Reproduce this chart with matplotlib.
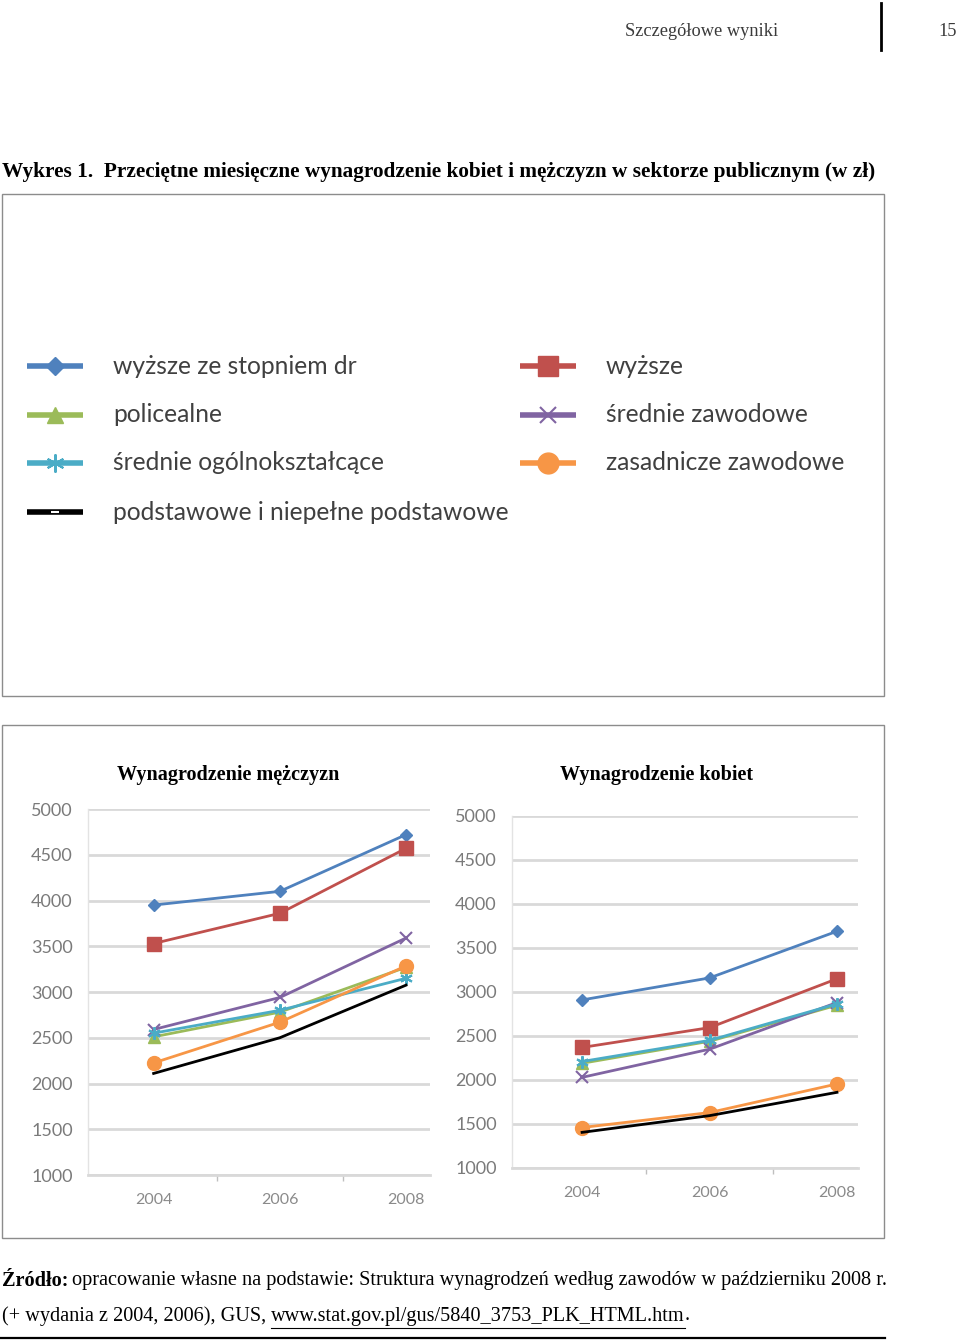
import matplotlib
matplotlib.use("Agg")
import matplotlib.pyplot as plt
from matplotlib.lines import Line2D
from matplotlib.patches import Rectangle
from matplotlib.transforms import Affine2D

# data (zł)
years = ["2004", "2006", "2008"]
labels = ["wyższe ze stopniem dr", "wyższe", "policealne", "średnie zawodowe",
          "średnie ogólnokształcące", "zasadnicze zawodowe",
          "podstawowe i niepełne podstawowe"]

men_dr = [3950, 4100, 4720]
men_wyzsze = [3530, 3860, 4570]
men_policealne = [2510, 2780, 3270]
men_sr_zawodowe = [2590, 2940, 3590]
men_sr_ogolne = [2550, 2800, 3150]
men_zasadnicze = [2225, 2670, 3285]
men_podstawowe = [2110, 2500, 3075]

women_dr = [2910, 3160, 3690]
women_wyzsze = [2370, 2595, 3150]
women_policealne = [2190, 2440, 2850]
women_sr_zawodowe = [2030, 2350, 2880]
women_sr_ogolne = [2210, 2450, 2865]
women_zasadnicze = [1460, 1630, 1955]
women_podstawowe = [1405, 1595, 1860]

yticks = [1000, 1500, 2000, 2500, 3000, 3500, 4000, 4500, 5000]

men = [men_dr, men_wyzsze, men_policealne, men_sr_zawodowe,
       men_sr_ogolne, men_zasadnicze, men_podstawowe]
women = [women_dr, women_wyzsze, women_policealne, women_sr_zawodowe,
         women_sr_ogolne, women_zasadnicze, women_podstawowe]

# style per series: colour, marker, chart marker size, legend marker size
styles = [
    ("#4f81bd", "D", 6, 9),
    ("#c0504d", "s", 10, 15),
    ("#9bbb59", "^", 8, 12),
    ("#8064a2", "x", 8, 12),
    ("#4bacc6", (6, 2, 0), 9, 13),
    ("#f79646", "o", 10, 15),
    ("#000000", "_", 0, 6),
]
# legend grid slots (column, row)
slots = [(0, 0), (1, 0), (0, 1), (1, 1), (0, 2), (1, 2), (0, 3)]

W, H = 960, 1340
fig = plt.figure(figsize=(W / 100, H / 100), dpi=100)
px = Affine2D().scale(1 / W, -1 / H).translate(0, 1) + fig.transFigure

serif = "Liberation Serif"
sans = "Lato"

# page header
fig.text(778, 31, "Szczegółowe wyniki", transform=px, ha="right", va="center",
         family=serif, fontsize=13.2, color="#3a3a3a")
fig.add_artist(Line2D([881, 881], [3, 50], transform=px, color="black", lw=2))
fig.text(957, 31, "15", transform=px, ha="right", va="center",
         family=serif, fontsize=13.2, color="#3a3a3a")

fig.text(2, 172, "Wykres 1.  Przeciętne miesięczne wynagrodzenie kobiet i mężczyzn w sektorze publicznym (w zł)",
         transform=px, ha="left", va="center", family=serif, fontsize=15.3,
         fontweight="bold", color="black")

# boxes
for y0, y1 in [(194, 696), (725, 1238)]:
    fig.add_artist(Rectangle((2, y1), 882, y0 - y1, transform=px, fill=False,
                             ec="#8c8c8c", lw=1))

# legend panel
col_x = [27, 520]
row_y = [366, 415, 463, 512]
for lab, (color, mk, ms, lms), (c, r) in zip(labels, styles, slots):
    x0 = col_x[c]
    y = row_y[r]
    fig.add_artist(Line2D([x0, x0 + 56], [y, y], transform=px, color=color,
                          lw=4, solid_capstyle="butt"))
    mfc = "white" if mk == "_" else color
    fig.add_artist(Line2D([x0 + 28], [y], transform=px, marker=mk, ms=lms,
                          color=mfc, mec=mfc, mew=1.5 if mk in ("x", "_") or mk == (6, 2, 0) else 1))
    fig.text(x0 + 86, y, lab, transform=px, ha="left", va="center",
             family=sans, fontsize=17.7, color="#404040")


def draw_panel(rect_px, series, xlim, title, title_x):
    l, t, r, b = rect_px
    ax = fig.add_axes([l / W, 1 - b / H, (r - l) / W, (b - t) / H])
    x = range(len(years))
    for vals, (color, mk, ms, lms) in zip(series, styles):
        ax.plot(x, vals, color=color, lw=2, marker=mk, ms=ms,
                mew=1.5 if mk == "x" or mk == (6, 2, 0) else 1,
                clip_on=False, zorder=3)
    ax.set_ylim(1000, 5000)
    ax.set_xlim(*xlim)
    ax.set_yticks(yticks)
    ax.set_yticklabels([str(v) for v in yticks])
    ax.set_xticks(list(x))
    ax.set_xticklabels(years)
    ax.set_xticks([0.5, 1.5], minor=True)
    ax.yaxis.grid(True, color="#d9d9d9", lw=2)
    ax.set_axisbelow(True)
    for s in ["top", "right"]:
        ax.spines[s].set_visible(False)
    ax.spines["bottom"].set_color("#d9d9d9")
    ax.spines["bottom"].set_linewidth(2)
    ax.spines["left"].set_color("#e3e3e3")
    ax.spines["left"].set_linewidth(1)
    ax.tick_params(axis="y", length=0, pad=11, labelsize=13, labelcolor="#7a7a7a")
    ax.tick_params(axis="x", which="major", length=0, pad=13, labelsize=11.5,
                   labelcolor="#8a8a8a")
    ax.tick_params(axis="x", which="minor", length=4, color="#bfbfbf", width=1)
    for lbl in ax.get_xticklabels() + ax.get_yticklabels():
        lbl.set_family(sans)
    fig.text(title_x, 775, title, transform=px, ha="center", va="center",
             family=serif, fontsize=14.5, fontweight="bold", color="black")
    return ax


draw_panel((88, 809, 430, 1175), men, (-0.52, 2.19), "Wynagrodzenie mężczyzn", 228)
draw_panel((512, 816, 858, 1168), women, (-0.55, 2.165), "Wynagrodzenie kobiet", 657)

# source note
fs = 14.6
renderer = fig.canvas.get_renderer()
t1 = fig.text(2, 1281, "Źródło:", transform=px, ha="left", va="center",
              family=serif, fontsize=fs, fontweight="bold", color="black")
bb = t1.get_window_extent(renderer)
x1 = bb.x1 + 4
fig.text(x1, H - 1281, "opracowanie własne na podstawie: Struktura wynagrodzeń według zawodów w październiku 2008 r.",
         transform=None, ha="left", va="center", family=serif, fontsize=fs, color="black")
t2 = fig.text(2, 1316, "(+ wydania z 2004, 2006), GUS, ", transform=px, ha="left",
              va="center", family=serif, fontsize=fs, color="black")
bb2 = t2.get_window_extent(renderer)
t3 = fig.text(bb2.x1, H - 1316, "www.stat.gov.pl/gus/5840_3753_PLK_HTML.htm",
              transform=None, ha="left", va="center", family=serif, fontsize=fs,
              color="black")
bb3 = t3.get_window_extent(renderer)
fig.add_artist(Line2D([bb3.x0, bb3.x1], [H - 1328, H - 1328], transform=None,
                      color="black", lw=0.8))
fig.text(bb3.x1, H - 1316, ".", transform=None, ha="left", va="center",
         family=serif, fontsize=fs, color="black")
fig.add_artist(Line2D([0, 885], [1338, 1338], transform=px, color="black", lw=1.6))

fig.savefig("out.png", dpi=100)
